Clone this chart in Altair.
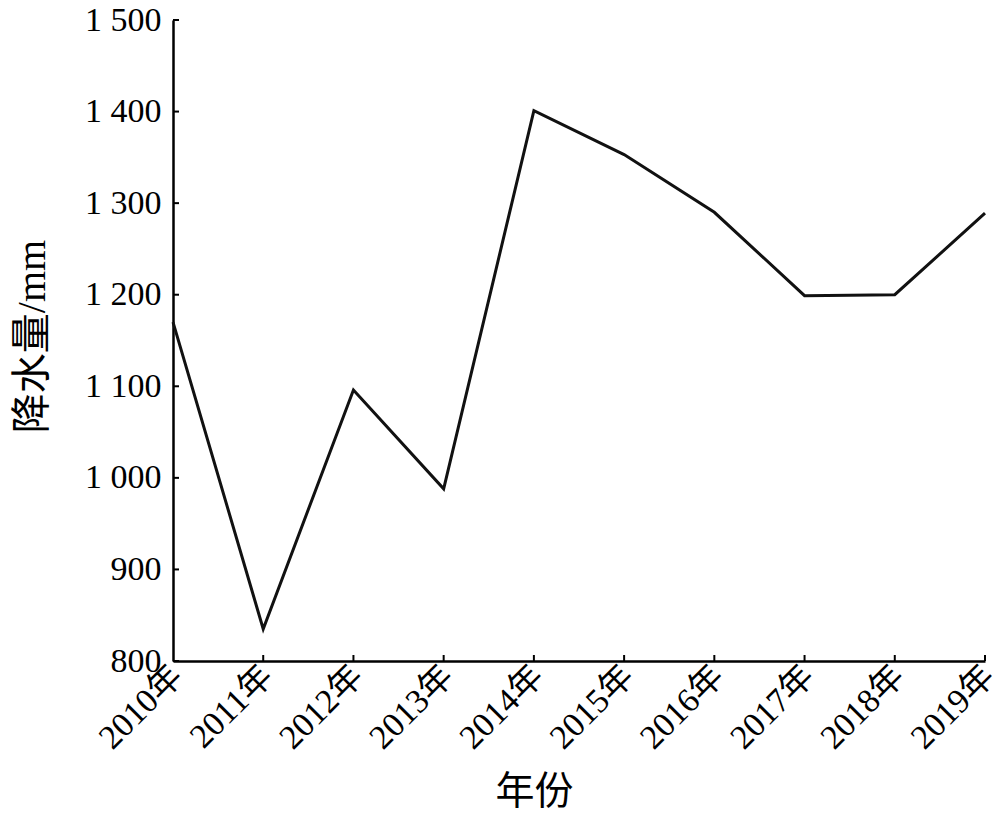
import altair as alt
import pandas as pd

years = ["2010年", "2011年", "2012年", "2013年", "2014年",
         "2015年", "2016年", "2017年", "2018年", "2019年"]
rain = [1170, 835, 1096, 988, 1401, 1353, 1290, 1199, 1200, 1289]
y_ticks = [800, 900, 1000, 1100, 1200, 1300, 1400, 1500]

W, H = 812, 641
FONT = "Liberation Serif, Times New Roman, Noto Sans CJK SC"

df = pd.DataFrame({"year": years, "rain": rain})
ytk = pd.DataFrame({"v": y_ticks})
xtk = pd.DataFrame({"year": years[1:]})

xscale = alt.Scale(type="point", padding=0, domain=years)
yscale = alt.Scale(domain=[800, 1500], nice=False, zero=False)

line = alt.Chart(df).mark_line(color="#111111", strokeWidth=3, strokeJoin="miter").encode(
    x=alt.X("year:N", scale=xscale, sort=years,
            axis=alt.Axis(title="年份", labelAngle=-45, labelAlign="right",
                          labelBaseline="middle", labelPadding=10, labelOffset=4,
                          ticks=False,
                          domainColor="#000000", domainWidth=2.5,
                          labelFont=FONT, labelFontSize=34, labelColor="#000000",
                          titleFont=FONT, titleFontSize=39, titleFontWeight="normal",
                          titleColor="#000000", titleX=361, titleY=130,
                          titleBaseline="middle", grid=False)),
    y=alt.Y("rain:Q", scale=yscale,
            axis=alt.Axis(title="降水量/mm", values=y_ticks, ticks=False,
                          labelExpr="replace(format(datum.value, ','), ',', ' ')",
                          labelPadding=12, domainColor="#000000", domainWidth=2.5,
                          labelFont=FONT, labelFontSize=34, labelColor="#000000",
                          titleFont=FONT, titleFontSize=40, titleFontWeight="normal",
                          titleColor="#000000", titleX=-141, titleY=316,
                          titleBaseline="middle", grid=False)),
)

yticks = alt.Chart(ytk).mark_rule(color="#000000", strokeWidth=2).encode(
    y=alt.Y("v:Q", scale=yscale),
    x=alt.value(0), x2=alt.value(6),
)

xticks = alt.Chart(xtk).mark_rule(color="#000000", strokeWidth=2).encode(
    x=alt.X("year:N", scale=xscale, sort=years),
    y=alt.value(H), y2=alt.value(H - 6),
)

chart = alt.layer(line, yticks, xticks).properties(
    width=W, height=H,
    autosize=alt.AutoSizeParams(type="none"),
    padding={"left": 165, "top": 12, "right": 7, "bottom": 152},
).configure(background="#ffffff").configure_view(stroke=None, strokeWidth=0)

chart.save("out.html", embed_options={"renderer": "svg", "actions": False})
